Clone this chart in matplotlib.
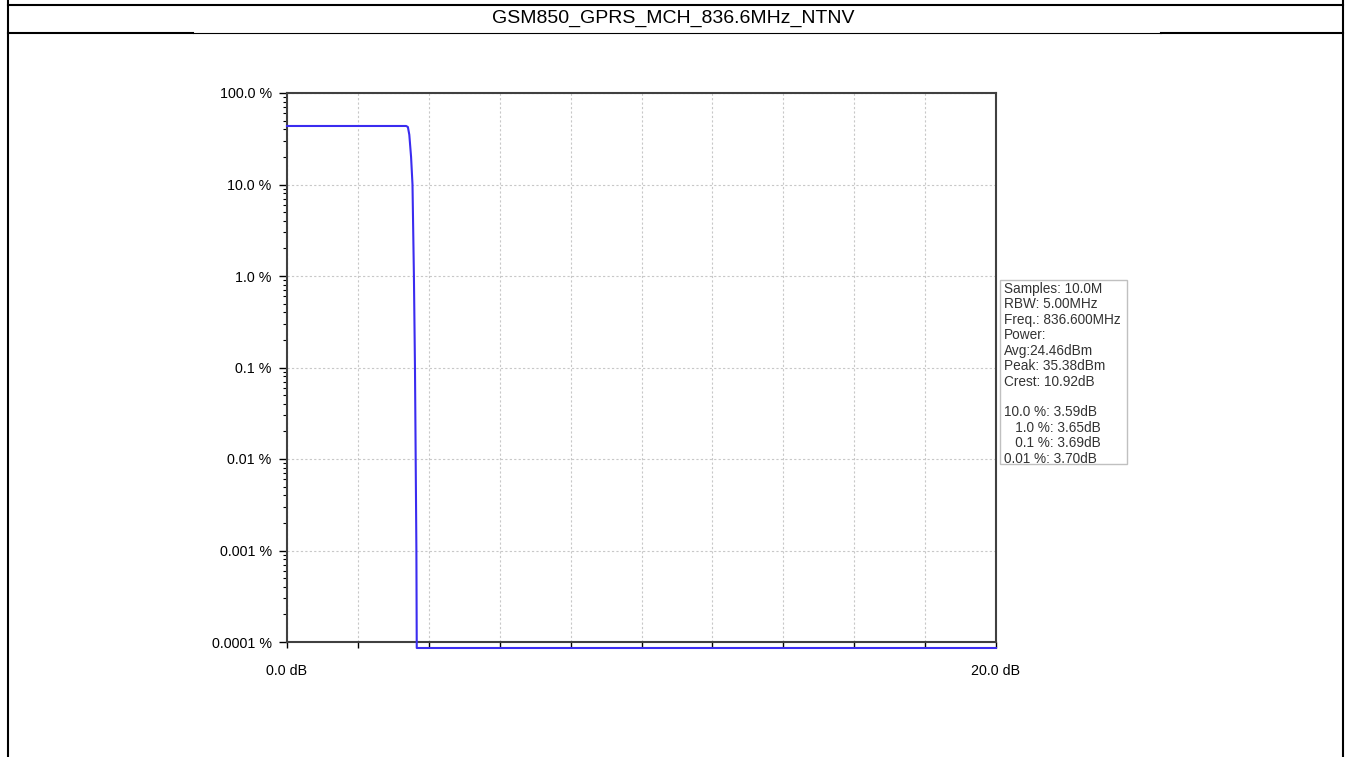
import numpy as np
import matplotlib.pyplot as plt
from matplotlib.lines import Line2D

plt.rcParams['font.family'] = ['Liberation Sans', 'DejaVu Sans']

# titulo de la tabla
titulo = "GSM850_GPRS_MCH_836.6MHz_NTNV"

# curva CCDF (potencia relativa en dB, probabilidad en %)
x_db = [0.0, 3.36, 3.41, 3.45, 3.50, 3.54, 3.58, 3.61, 3.63, 3.65, 3.66, 20.0]
ccdf_pct = [43.6, 43.6, 42.5, 35.0, 20.0, 10.0, 1.0, 0.1, 0.01, 0.001, 0.000086, 0.000086]

# ticks
y_ticks = [100, 10, 1, 0.1, 0.01, 0.001, 0.0001]
y_labels = ["100.0 %", "10.0 %", "1.0 %", "0.1 %", "0.01 %", "0.001 %", "0.0001 %"]
x_ticks = [0, 2, 4, 6, 8, 10, 12, 14, 16, 18, 20]
x_labels = ["0.0 dB", "", "", "", "", "", "", "", "", "", "20.0 dB"]

# cuadro de resultados
info = ["Samples: 10.0M", "RBW: 5.00MHz", "Freq.: 836.600MHz", "Power:",
        "Avg:24.46dBm", "Peak: 35.38dBm", "Crest: 10.92dB", "",
        "10.0 %: 3.59dB", "   1.0 %: 3.65dB", "   0.1 %: 3.69dB", "0.01 %: 3.70dB"]

W, H = 1346, 757
fig = plt.figure(figsize=(W / 100, H / 100), dpi=100)

# marco de la tabla (coordenadas en pixeles -> fraccion)
def px_line(x0, y0, x1, y1, lw=1.5):
    fig.add_artist(Line2D([x0 / W, x1 / W], [1 - y0 / H, 1 - y1 / H],
                          color='black', lw=lw, transform=fig.transFigure))

px_line(8, 4.5, 1343, 4.5)
px_line(8, 0, 8, H)
px_line(1343, 0, 1343, H)
px_line(8, 33, 193, 33)
px_line(193, 33, 1161, 33, lw=0.8)
px_line(1161, 33, 1343, 33)

fig.text(673 / W, 1 - 18.5 / H, titulo, ha='center', va='center', fontsize=14)

ax = fig.add_axes([287 / W, 1 - 642 / H, (996 - 287) / W, (642 - 93) / H])
ax.set_yscale('log')
ax.plot(x_db, ccdf_pct, color='#3a2cf0', lw=1.5, clip_on=False, zorder=3)
ax.set_xlim(0, 20)
ax.set_ylim(0.0001, 100)

ax.set_yticks(y_ticks)
ax.set_yticklabels(y_labels)
ax.set_xticks(x_ticks)
ax.set_xticklabels(x_labels)
ax.tick_params(axis='y', which='major', length=6, width=1, labelsize=10.3, pad=5)
ax.tick_params(axis='y', which='minor', length=3, width=0.8)
ax.tick_params(axis='x', which='major', length=4, width=1, labelsize=10.3, pad=12)

ax.grid(True, which='major', color='#c8c8c8', linestyle=(0, (2, 2)), lw=0.8)
for s in ax.spines.values():
    s.set_color('#404040')
    s.set_linewidth(1.5)

fig.text(1004 / W, 1 - 282 / H, "\n".join(info), ha='left', va='top',
         fontsize=9.8, linespacing=1.13, color='#333333')
fig.add_artist(plt.Rectangle((1000 / W, 1 - 464 / H), 127 / W, 184 / H,
                             fill=False, edgecolor='#c0c0c0', lw=1,
                             transform=fig.transFigure))

fig.savefig('out.png', dpi=100)
